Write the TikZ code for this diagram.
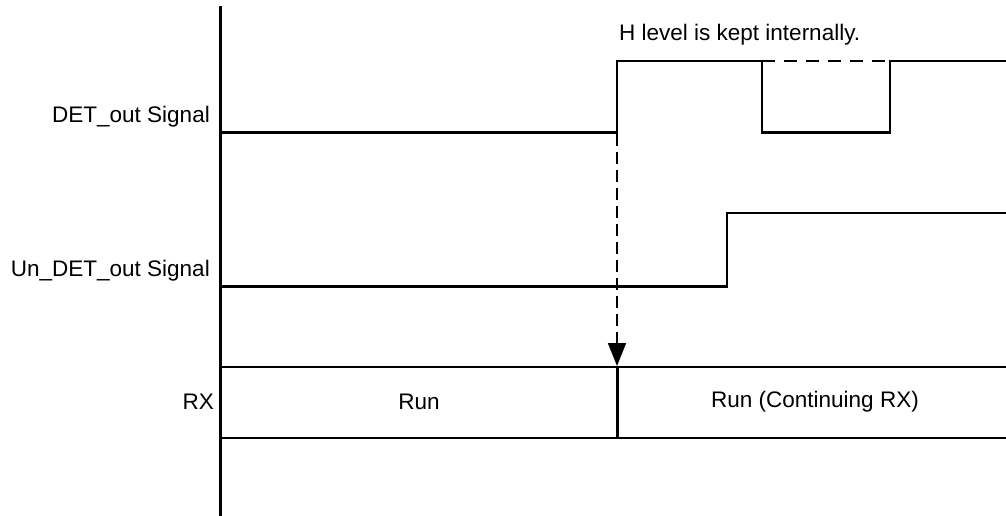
\documentclass[tikz,border=0pt]{standalone}
\usepackage{fontspec}
\setmainfont{Liberation Sans}
\usetikzlibrary{arrows.meta}
\begin{document}
\begin{tikzpicture}[x=1pt,y=-1pt,
  sig/.style={line width=2.1pt,line join=miter},
  dsig/.style={line width=2.1pt,dash pattern=on 13pt off 9pt},
  lbl/.style={font=\fontsize{22.5}{27}\selectfont,inner sep=0pt},
  arr/.style={line width=1.7pt,dash pattern=on 12pt off 6pt,-{Triangle[length=23pt,width=18pt]}}]
\useasboundingbox (0,0) rectangle (1006,516);
% axis
\draw[sig] (220.5,6) -- (220.5,516);
% labels
\node[lbl,anchor=east] (l1) at (210,117) {DET\_out Signal};
\node[lbl,anchor=east] (l2) at (210,271) {Un\_DET\_out Signal};
\node[lbl,anchor=east] (l3) at (214,402) {RX};
\node[lbl] (run) at (419,402) {Run};
\node[lbl] (runc) at (815,402) {Run (Continuing RX)};
\node[lbl,anchor=west] (note) at (619,35) {H level is kept internally.};
% DET_out
\draw[sig] (220.5,132.5) -- (617,132.5) -- (617,61) -- (762,61) -- (762,132.5) -- (890,132.5) -- (890,61) -- (1006,61);
\draw[dsig] (762,61) -- (890,61);
% Un_DET_out
\draw[sig] (220.5,286.5) -- (727,286.5) -- (727,213) -- (1006,213);
% RX
\draw[sig] (220.5,367) -- (1006,367);
\draw[sig] (220.5,438) -- (1006,438);
\draw[sig] (617.5,367) -- (617.5,438);
% arrow
\coordinate (a0) at (617,134);
\coordinate (a1) at (617,366);
\draw[arr] (a0) -- (a1);
\end{tikzpicture}
\end{document}
